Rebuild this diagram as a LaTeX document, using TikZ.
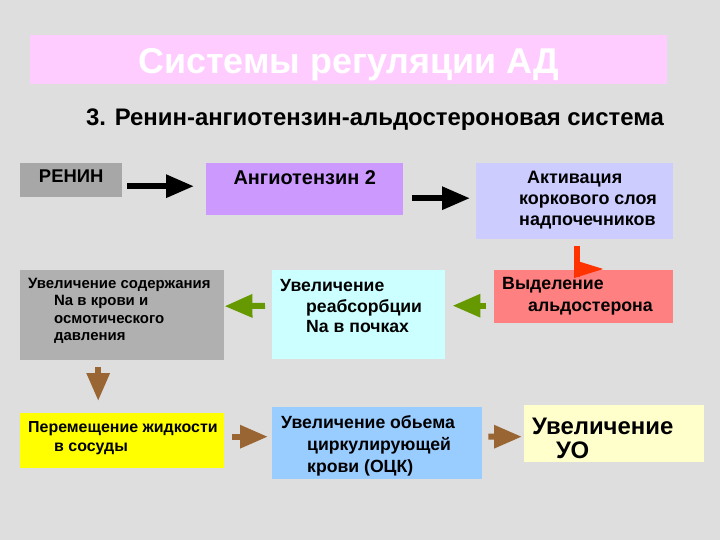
\documentclass[tikz,border=0pt]{standalone}
\usepackage{fontspec}
\setmainfont{Liberation Sans}
\usetikzlibrary{arrows.meta,positioning}
\definecolor{slidebg}{RGB}{222,222,222}
\definecolor{titlefill}{RGB}{255,204,255}
\definecolor{greyfill}{RGB}{176,176,176}
\definecolor{lilacfill}{RGB}{204,153,255}
\definecolor{bluefill}{RGB}{204,204,255}
\definecolor{redfill}{RGB}{255,128,128}
\definecolor{cyanfill}{RGB}{204,255,255}
\definecolor{yellowfill}{RGB}{255,255,0}
\definecolor{skyfill}{RGB}{153,204,255}
\definecolor{creamfill}{RGB}{255,255,204}
\definecolor{greenarrow}{RGB}{102,153,0}
\definecolor{brownarrow}{RGB}{153,102,51}
\definecolor{redarrow}{RGB}{255,51,0}
\newcommand{\hang}{\hspace*{26bp}}

\tikzset{
  box/.style={inner sep=0pt, anchor=north west},
  boxtext/.style={inner sep=0pt, anchor=north west, align=left,
                  font=\bfseries\fontsize{17.7}{20.5}\selectfont},
  smalltext/.style={boxtext, font=\bfseries\fontsize{15}{17.7}\selectfont},
  fatarrow/.style={line width=6bp, -{Triangle[length=28bp,width=22bp]}},
}

\begin{document}
\begin{tikzpicture}[x=1bp, y=-1bp]
  \fill[slidebg] (0,0) rectangle (720,540);
  \useasboundingbox (0,0) rectangle (720,540);

  % heading
  \node[box, fill=titlefill, minimum width=637bp, minimum height=49bp] (title) at (30,35) {};
  \node[text=white, font=\bfseries\fontsize{36}{40}\selectfont] (title-t) at ([yshift=-5bp]title.center)
    {Системы регуляции АД};
  \node[anchor=base, font=\bfseries\fontsize{24}{28}\selectfont] (subtitle) at (375,126)
    {3. Ренин-ангиотензин-альдостероновая система};

  % boxes
  \node[box, fill=greyfill!95!black, minimum width=102bp, minimum height=34bp] (renin) at (20,163) {};
  \node[box, fill=lilacfill, minimum width=197bp, minimum height=52bp] (angio) at (206,163) {};
  \node[box, fill=bluefill, minimum width=197bp, minimum height=76bp] (activ) at (476,163) {};
  \node[box, fill=greyfill, minimum width=204bp, minimum height=90bp] (sod) at (20,270) {};
  \node[box, fill=cyanfill, minimum width=173bp, minimum height=89bp] (reab) at (272,270) {};
  \node[box, fill=redfill, minimum width=179bp, minimum height=53bp] (aldo) at (494,270) {};
  \node[box, fill=yellowfill, minimum width=204bp, minimum height=55bp] (perem) at (20,413) {};
  \node[box, fill=skyfill, minimum width=210bp, minimum height=72bp] (ock) at (272,407) {};
  \node[box, fill=creamfill, minimum width=180bp, minimum height=57bp] (uo) at (524,405) {};

  % texts
  \node[boxtext, anchor=north, font=\bfseries\fontsize{18.5}{20}\selectfont] (renin-t) at ([yshift=-6.4bp]renin.north) {РЕНИН};
  \node[boxtext, anchor=north, font=\bfseries\fontsize{20}{22}\selectfont] (angio-t) at ([yshift=-7.5bp]angio.north) {Ангиотензин 2};
  \node[boxtext, font=\bfseries\fontsize{18}{21}\selectfont] (activ-t) at ([xshift=43bp, yshift=-8.2bp]activ.north west)
    {\hspace*{8bp}Активация\\коркового слоя\\надпочечников};
  \node[smalltext] (sod-t) at ([xshift=8bp, yshift=-7.6bp]sod.north west)
    {Увеличение содержания\\\hang Na в крови и\\\hang осмотического\\\hang давления};
  \node[boxtext] (reab-t) at ([xshift=8bp, yshift=-9.5bp]reab.north west)
    {Увеличение\\\hang реабсорбции\\\hang Na в почках};
  \node[boxtext, font=\bfseries\fontsize{17.8}{22}\selectfont] (aldo-t) at ([xshift=8bp, yshift=-7.5bp]aldo.north west)
    {Выделение\\\hang альдостерона};
  \node[smalltext, font=\bfseries\fontsize{16}{19}\selectfont] (perem-t) at ([xshift=8bp, yshift=-8.5bp]perem.north west)
    {Перемещение жидкости\\\hang в сосуды};
  \node[boxtext, font=\bfseries\fontsize{17.7}{22}\selectfont] (ock-t) at ([xshift=9bp, yshift=-8.5bp]ock.north west)
    {Увеличение обьема\\\hang циркулирующей\\\hang крови (ОЦК)};
  \node[boxtext, font=\bfseries\fontsize{24}{24}\selectfont] (uo-t) at ([xshift=8bp, yshift=-12.5bp]uo.north west)
    {Увеличение\\\hspace*{24bp}УО};

  % arrows
  \draw[fatarrow, shorten <=5bp, shorten >=12bp] ([yshift=3bp]renin.east |- angio.west) -- ([yshift=3bp]angio.west);
  \draw[fatarrow, shorten <=9bp, shorten >=6bp] ([yshift=3bp]angio.east |- activ.west) -- ([yshift=3bp]activ.west);
  \draw[redarrow, line width=6bp] ([xshift=2.5bp, yshift=-7bp]activ.south) coordinate (red-top)
    -- ([xshift=2.5bp, yshift=-7bp]activ.south |- aldo.north) coordinate (red-foot);
  \fill[redarrow] (red-foot) ++(-3,1) -- ++(0,-18) -- ++(29,9) -- cycle;
  \draw[fatarrow, greenarrow, shorten <=8bp, shorten >=7bp] ([yshift=9bp]aldo.west |- reab.east) -- ([yshift=9bp]reab.east);
  \draw[fatarrow, greenarrow, shorten <=7bp] ([yshift=9bp]reab.west) -- ([yshift=9bp]sod.east);
  \draw[fatarrow, brownarrow, shorten <=7bp, shorten >=12bp] ([xshift=-24bp]sod.south) -- ([xshift=-24bp]perem.north);
  \draw[fatarrow, brownarrow, shorten <=8bp, shorten >=4bp] ([yshift=4bp]perem.east) -- ([yshift=4bp]perem.east -| ock.west);
  \draw[fatarrow, brownarrow, shorten <=6bp, shorten >=2bp] (ock.east |- uo.west) ++(0,3) coordinate (ock-out)
    -- ([yshift=-3bp]uo.west);
\end{tikzpicture}
\end{document}
